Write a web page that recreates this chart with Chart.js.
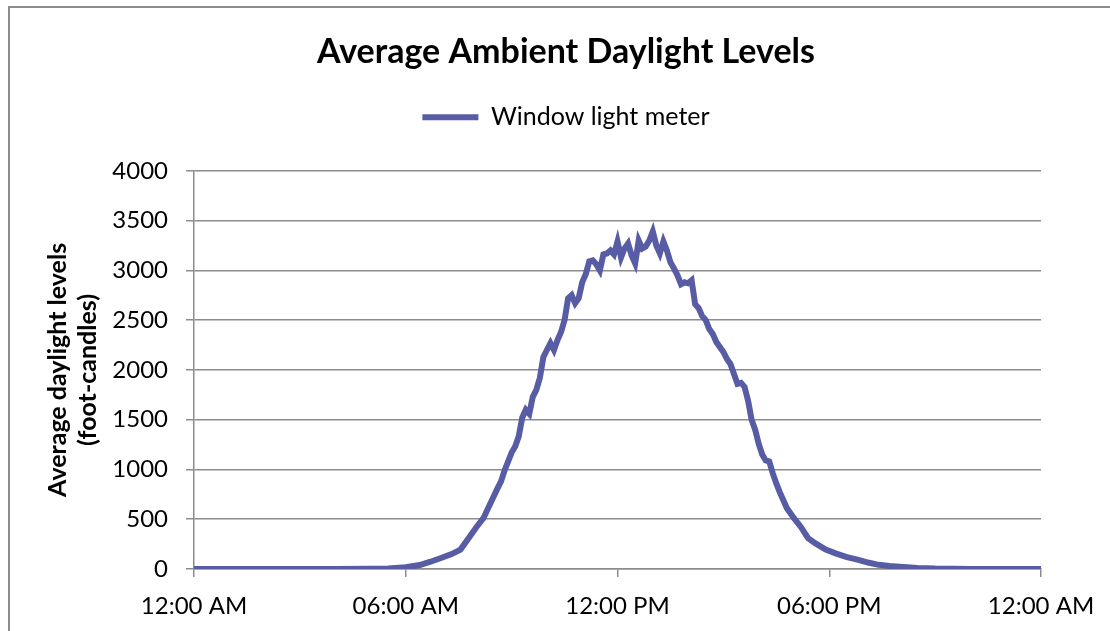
<!DOCTYPE html>
<html>
<head>
<meta charset="utf-8">
<script src="https://cdn.jsdelivr.net/npm/chart.js@4.4.0/dist/chart.umd.min.js"></script>
<style>
    body { margin: 0; overflow: hidden; background: #fff; }
    #frame { position: absolute; left: 8px; top: 6px; width: 1300px; height: 800px; border: 2px solid #8c8c8c; }
    #grafico { position: absolute; left: 0; top: 0; }
</style>
</head>
<body>
<div id="frame"></div>
<canvas id="grafico" width="1132" height="631"></canvas>
<script>
// hora do dia (0-24) e leitura media em foot-candles
const horas = [
    0, 1, 2, 3, 4, 5, 5.5, 6.0, 6.4, 6.7, 7.0, 7.3, 7.55, 7.8, 8.0, 8.2, 8.4, 8.6, 8.7, 8.8,
    9.0, 9.1, 9.2, 9.3, 9.4, 9.5, 9.6, 9.7, 9.8, 9.9, 10.0, 10.1, 10.2, 10.3, 10.4, 10.5, 10.6, 10.7, 10.8, 10.9,
    11.0, 11.1, 11.2, 11.3, 11.4, 11.5, 11.6, 11.7, 11.8, 11.9, 12.0, 12.1, 12.2, 12.3, 12.4, 12.5, 12.6, 12.7, 12.8, 12.9,
    13.0, 13.1, 13.2, 13.3, 13.4, 13.5, 13.6, 13.7, 13.8, 13.9, 14.0, 14.1, 14.2, 14.3, 14.4, 14.5, 14.6, 14.7, 14.8, 14.9,
    15.0, 15.1, 15.2, 15.3, 15.4, 15.5, 15.6, 15.7, 15.8, 15.9, 16.0, 16.1, 16.2, 16.3, 16.4, 16.5, 16.6, 16.7, 16.8, 16.9,
    17.0, 17.2, 17.4, 17.6, 17.9, 18.2, 18.5, 18.8, 19.1, 19.4, 19.7, 20.0, 20.5, 21, 22, 23, 24
];
const luz = [
    0, 0, 0, 0, 0, 2, 6, 17, 40, 73, 110, 150, 195, 320, 420, 510, 660, 810, 880, 990,
    1170, 1230, 1330, 1520, 1600, 1560, 1730, 1800, 1920, 2130, 2200, 2270, 2200, 2300, 2380, 2500, 2720, 2750, 2670, 2720,
    2880, 2960, 3090, 3100, 3060, 3000, 3160, 3170, 3200, 3160, 3290, 3130, 3220, 3270, 3150, 3070, 3300, 3220, 3240, 3300,
    3390, 3250, 3170, 3290, 3200, 3080, 3020, 2950, 2860, 2880, 2870, 2900, 2660, 2620, 2540, 2500, 2410, 2360, 2280, 2230,
    2180, 2110, 2060, 1960, 1860, 1870, 1830, 1690, 1500, 1400, 1260, 1150, 1090, 1080, 960, 860, 770, 690, 610, 560,
    510, 420, 310, 260, 195, 155, 120, 95, 65, 42, 30, 22, 10, 4, 1, 0, 0
];
const rotulosX = ['12:00 AM', '06:00 AM', '12:00 PM', '06:00 PM', '12:00 AM'];
const ticksY = [0, 500, 1000, 1500, 2000, 2500, 3000, 3500, 4000];

const fonte = 'Lato';
const cinza = '#8c8c8c';

// empurra a area do grafico para baixo da legenda
const espacoLegenda = {
    id: 'espacoLegenda',
    beforeInit(chart) {
        const fitOriginal = chart.legend.fit;
        chart.legend.fit = function () {
            fitOriginal.bind(chart.legend)();
            this.height += 31;
        };
    }
};

new Chart(document.getElementById('grafico'), {
    type: 'line',
    data: {
        datasets: [{
            label: 'Window light meter',
            data: horas.map((h, i) => ({ x: h, y: luz[i] })),
            borderColor: '#575ca5',
            backgroundColor: '#575ca5',
            borderWidth: 6,
            pointRadius: 0,
            tension: 0
        }]
    },
    options: {
        responsive: false,
        animation: false,
        layout: { padding: 0 },
        plugins: {
            title: {
                display: true,
                text: 'Average Ambient Daylight Levels',
                color: '#000',
                font: { family: fonte, size: 34, weight: 'bold' },
                padding: { top: 32, bottom: 22 }
            },
            legend: {
                display: true,
                labels: {
                    usePointStyle: true,
                    pointStyle: 'line',
                    pointStyleWidth: 56,
                    color: '#000',
                    font: { family: fonte, size: 25 },
                    padding: 10
                }
            },
            tooltip: { enabled: false }
        },
        scales: {
            x: {
                type: 'linear',
                min: 0,
                max: 24,
                afterFit: (s) => { s.height = 62; },
                afterBuildTicks: (s) => { s.ticks = [0, 6, 12, 18, 24].map(v => ({ value: v })); },
                ticks: {
                    color: '#000',
                    font: { family: fonte, size: 24 },
                    padding: 15,
                    maxRotation: 0,
                    autoSkip: false,
                    callback: (v) => rotulosX[v / 6]
                },
                grid: { drawOnChartArea: false, drawTicks: true, tickLength: 8, color: cinza, lineWidth: 1.5 },
                border: { display: true, color: cinza, width: 1.5 }
            },
            y: {
                min: 0,
                max: 4000,
                afterFit: (s) => { s.width = 194; },
                afterBuildTicks: (s) => { s.ticks = ticksY.map(v => ({ value: v })); },
                ticks: {
                    color: '#000',
                    font: { family: fonte, size: 24 },
                    padding: 18,
                    callback: (v) => String(v)
                },
                title: {
                    display: true,
                    text: ['Average daylight levels', '(foot-candles)'],
                    color: '#000',
                    font: { family: fonte, size: 25, weight: 'bold', lineHeight: 1.2 },
                    padding: { top: 43, bottom: 0 }
                },
                grid: { color: cinza, lineWidth: 1.5, tickLength: 8 },
                border: { display: true, color: cinza, width: 1.5 }
            },
            // eixo vazio a direita so para reservar o espaco
            margem: {
                position: 'right',
                afterFit: (s) => { s.width = 91; },
                ticks: { display: false },
                grid: { display: false },
                border: { display: false }
            }
        }
    },
    plugins: [espacoLegenda]
});
</script>
</body>
</html>
